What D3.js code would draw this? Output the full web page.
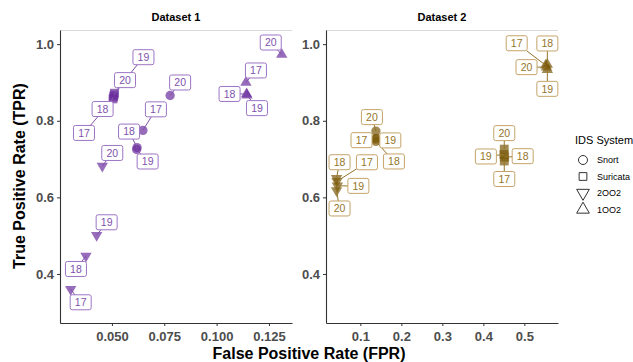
<!DOCTYPE html>
<html>
<head>
<meta charset="utf-8">
<script src="https://cdn.jsdelivr.net/npm/d3@7"></script>
<style>
  body { margin: 0; background: #fff; }
  svg { font-family: "Liberation Sans", Arial, sans-serif; }
</style>
</head>
<body>
<svg id="chart" width="633" height="362"></svg>
<script>
// categories
var years = ["17", "18", "19", "20"];
var systems = ["Snort", "Suricata", "2OO2", "1OO2"];
var datasets = ["Dataset 1", "Dataset 2"];

// values, ordered system by system, year 17..20 inside each system
var fpr1 = [0.0648, 0.0620, 0.0618, 0.0778,
            0.0505, 0.0508, 0.0512, 0.0510,
            0.0303, 0.0376, 0.0427, 0.0454,
            0.1140, 0.1143, 0.1145, 0.1311];
var tpr1 = [0.775, 0.730, 0.725, 0.866,
            0.857, 0.862, 0.872, 0.867,
            0.360, 0.447, 0.501, 0.682,
            0.900, 0.870, 0.867, 0.973];
var fpr2 = [0.137, 0.138, 0.139, 0.138,
            0.451, 0.452, 0.450, 0.451,
            0.043, 0.042, 0.044, 0.042,
            0.552, 0.556, 0.556, 0.554];
var tpr2 = [0.752, 0.746, 0.754, 0.773,
            0.695, 0.705, 0.712, 0.726,
            0.642, 0.650, 0.630, 0.618,
            0.945, 0.947, 0.933, 0.940];

var xTicks1 = [0.05, 0.075, 0.1, 0.125];
var xTicks2 = [0.1, 0.2, 0.3, 0.4, 0.5];
var yTicks = [0.4, 0.6, 0.8, 1.0];

// where the repelled labels ended up (pixels from the point)
var nudge1 = [[13, -21], [-8, -16], [11, 12], [10, -13],
              [-29, 34], [-11, 12], [29, -36], [11, -15],
              [10, 13], [-10, 13], [10, -13], [10, -13],
              [10, -12], [-17, 0], [10, 13], [-11, -12]];
var nudge2 = [[-14, 1], [18, 20], [14, 2], [-4, -14],
              [0, 18], [18, -1], [-18, 2], [0, -16],
              [30, -19], [3, -16], [21, 0], [3, 18],
              [-29, -22], [0, -21], [0, 19], [-20, 0]];

var svg = d3.select("#chart");

var y = d3.scaleLinear().domain([0.272, 1.037]).range([323, 30]);

var panels = [
  { title: datasets[0], fpr: fpr1, tpr: tpr1, nudge: nudge1,
    x: d3.scaleLinear().domain([0.0252, 0.136]).range([60, 292]),
    ticks: xTicks1, fmt: d3.format(".3f"),
    fill: "#6b2d9c", ink: "#8052ad", border: "#9c74c4" },
  { title: datasets[1], fpr: fpr2, tpr: tpr2, nudge: nudge2,
    x: d3.scaleLinear().domain([0.0163, 0.582]).range([326, 558]),
    ticks: xTicks2, fmt: d3.format(".1f"),
    fill: "#7a5a0a", ink: "#95752a", border: "#c4a468" }
];

function shapeFor(sys, size) {
  var t = d3.symbolCircle, s = 68;
  if (sys === "Suricata") { t = d3.symbolSquare; s = 78; }
  if (sys === "2OO2" || sys === "1OO2") { t = d3.symbolTriangle; s = 56; }
  return d3.symbol().type(t).size(size || s)();
}
function rot(sys) {
  return sys === "2OO2" ? " rotate(180)" : "";
}

panels.forEach(function (p) {
  var x = p.x;
  var g = svg.append("g");

  // strip line + title
  g.append("line")
    .attr("x1", x.range()[0]).attr("x2", x.range()[1])
    .attr("y1", 30.5).attr("y2", 30.5)
    .attr("stroke", "#d9d9d9").attr("stroke-width", 1.2);
  g.append("text")
    .attr("x", (x.range()[0] + x.range()[1]) / 2)
    .attr("y", 21)
    .attr("text-anchor", "middle")
    .attr("font-size", 11).attr("font-weight", "bold")
    .text(p.title);

  // axes
  var ax = g.append("g").attr("transform", "translate(0,323)")
    .call(d3.axisBottom(x).tickValues(p.ticks).tickFormat(p.fmt).tickSize(3).tickSizeOuter(0));
  var ay = g.append("g").attr("transform", "translate(" + x.range()[0] + ",0)")
    .call(d3.axisLeft(y).tickValues(yTicks).tickFormat(d3.format(".1f")).tickSize(3).tickSizeOuter(0));
  [ax, ay].forEach(function (a) {
    a.select(".domain").attr("stroke", "#333").attr("stroke-width", 1.1);
    a.selectAll(".tick line").attr("stroke", "#333");
    a.selectAll(".tick text")
      .attr("fill", "#4d4d4d").attr("font-size", 13).attr("font-weight", "bold")
      .attr("font-family", "Liberation Sans, Arial, sans-serif");
  });
  ax.selectAll(".tick text").attr("dy", "0.95em");

  var rows = p.fpr.map(function (v, i) {
    return {
      fpr: v, tpr: p.tpr[i],
      sys: systems[Math.floor(i / 4)], year: years[i % 4],
      dx: p.nudge[i][0], dy: p.nudge[i][1]
    };
  });

  // points
  g.selectAll("path.pt").data(rows).enter().append("path")
    .attr("class", "pt")
    .attr("d", function (d) { return shapeFor(d.sys); })
    .attr("transform", function (d) {
      return "translate(" + x(d.fpr) + "," + y(d.tpr) + ")" + rot(d.sys);
    })
    .attr("fill", p.fill).attr("fill-opacity", 0.7);

  // segments from point to label box edge
  var bw = 21, bh = 15;
  rows.forEach(function (d) {
    var px = x(d.fpr), py = y(d.tpr);
    var cx = px + d.dx, cy = py + d.dy;
    var vx = px - cx, vy = py - cy;
    var tx = vx === 0 ? Infinity : (bw / 2) / Math.abs(vx);
    var ty = vy === 0 ? Infinity : (bh / 2) / Math.abs(vy);
    var t = Math.min(tx, ty);
    if (t >= 1) return;
    var ex = cx + vx * t, ey = cy + vy * t;
    if (Math.hypot(px - ex, py - ey) < 4) return;
    g.append("line")
      .attr("x1", px).attr("y1", py).attr("x2", ex).attr("y2", ey)
      .attr("stroke", p.ink).attr("stroke-width", 1);
  });

  // labels
  var lab = g.selectAll("g.lab").data(rows).enter().append("g")
    .attr("class", "lab")
    .attr("transform", function (d) {
      return "translate(" + (x(d.fpr) + d.dx) + "," + (y(d.tpr) + d.dy) + ")";
    });
  lab.append("rect")
    .attr("x", -bw / 2).attr("y", -bh / 2)
    .attr("width", bw).attr("height", bh)
    .attr("rx", 2)
    .attr("fill", "#fff").attr("stroke", p.border).attr("stroke-width", 1);
  lab.append("text")
    .attr("text-anchor", "middle").attr("dy", "0.36em")
    .attr("font-size", 10.5).attr("fill", p.ink)
    .text(function (d) { return d.year; });
});

// axis titles
svg.append("text")
  .attr("x", 309).attr("y", 359)
  .attr("text-anchor", "middle")
  .attr("font-size", 16).attr("font-weight", "bold")
  .text("False Positive Rate (FPR)");
svg.append("text")
  .attr("transform", "translate(25,176) rotate(-90)")
  .attr("text-anchor", "middle")
  .attr("font-size", 16).attr("font-weight", "bold")
  .text("True Positive Rate (TPR)");

// legend
var leg = svg.append("g").attr("transform", "translate(575,0)");
leg.append("text").attr("x", 0).attr("y", 144)
  .attr("font-size", 11).text("IDS System");
var legSizes = { "Snort": 64, "Suricata": 60, "2OO2": 70, "1OO2": 70 };
systems.forEach(function (s, i) {
  var yy = 160 + i * 16.5;
  leg.append("path")
    .attr("d", shapeFor(s, legSizes[s]))
    .attr("transform", "translate(8," + yy + ")" + rot(s))
    .attr("fill", "none").attr("stroke", "#333").attr("stroke-width", 1);
  leg.append("text").attr("x", 22).attr("y", yy).attr("dy", "0.35em")
    .attr("font-size", 9).text(s);
});
</script>
</body>
</html>
